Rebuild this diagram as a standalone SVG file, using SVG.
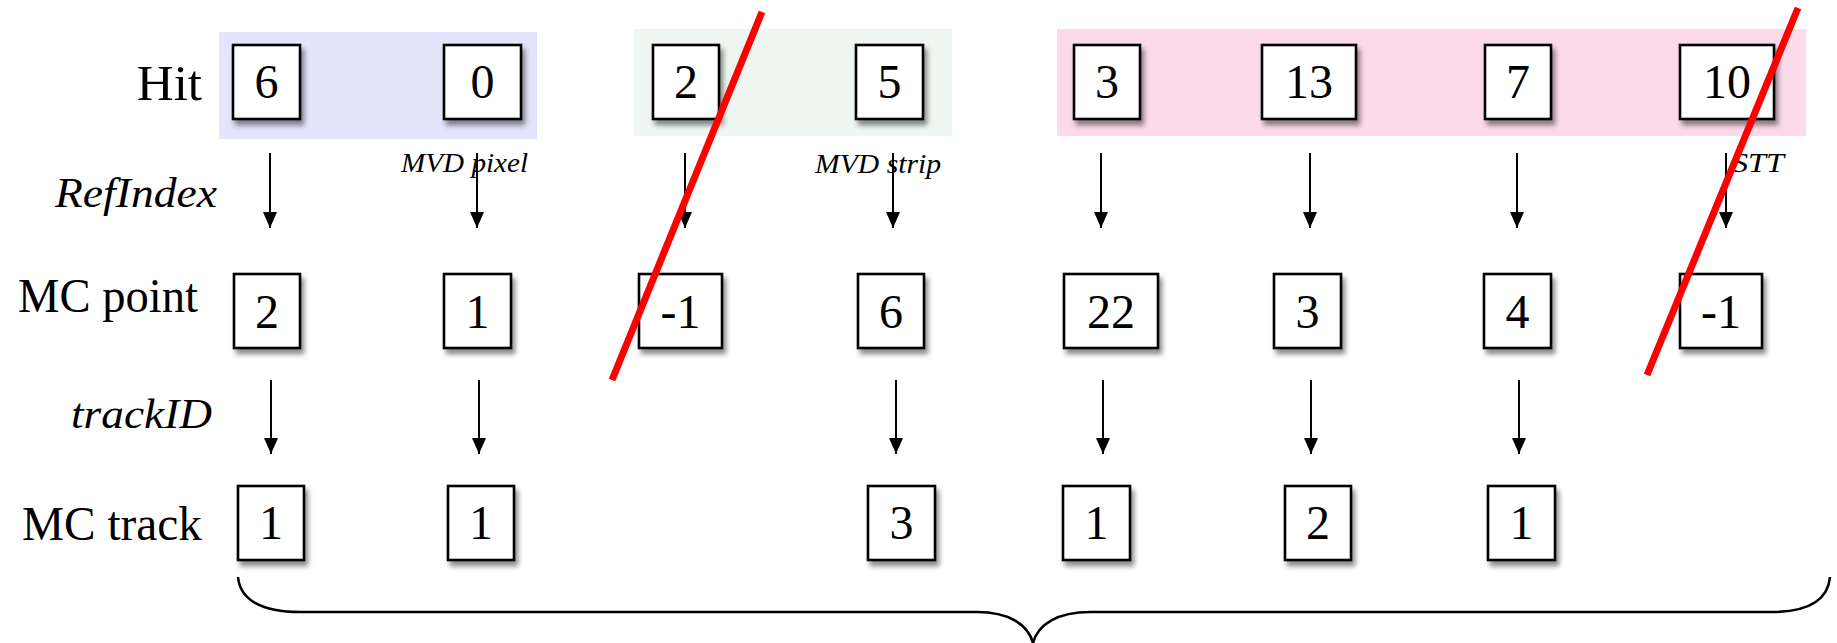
<svg xmlns="http://www.w3.org/2000/svg" width="1837" height="643" viewBox="0 0 1837 643">
  <style>
    .box { fill: #ffffff; stroke: #000000; stroke-width: 2.6; filter: url(#shadow); }
    .val { font-family: "Liberation Serif", "Times New Roman", serif; font-size: 48px; fill: #000; text-anchor: middle; }
    .row { font-family: "Liberation Serif", "Times New Roman", serif; font-size: 48px; fill: #000; text-anchor: end; }
    .rel { font-family: "Liberation Serif", "Times New Roman", serif; font-style: italic; font-size: 42px; fill: #000; }
    .det { font-family: "Liberation Serif", "Times New Roman", serif; font-style: italic; font-size: 28px; fill: #000; }
    .arrow { stroke: #000; stroke-width: 2; fill: none; marker-end: url(#head); }
    .brace { stroke: #000; stroke-width: 2.6; fill: none; }
    .veto { stroke: #ff0000; stroke-width: 7; stroke-linecap: butt; }
  </style>
  <defs>
    <filter id="shadow" x="-20%" y="-20%" width="150%" height="150%">
      <feDropShadow dx="3" dy="5" stdDeviation="2.5" flood-color="#000" flood-opacity="0.45"/>
    </filter>
    <marker id="head" markerUnits="userSpaceOnUse" markerWidth="16" markerHeight="14" refX="16" refY="7" orient="auto">
      <path d="M0,0 L16,7 L0,14 z" fill="#000"/>
    </marker>
  </defs>

  <rect width="1837" height="643" fill="#ffffff"/>

  <!-- detector groupings behind the hit row -->
  <g id="bands">
    <rect id="band-mvd-pixel" x="219" y="32" width="318" height="107" fill="#e4e4fa"/>
    <rect id="band-mvd-strip" x="634" y="29" width="318" height="107" fill="#edf6f1"/>
    <rect id="band-stt" x="1057" y="29" width="749" height="107" fill="#fcdaea"/>
  </g>

  <!-- row titles -->
  <g id="row-labels">
    <text class="row" x="202" y="100" style="font-size:51px">Hit</text>
    <text class="row" x="198" y="312" textLength="180" lengthAdjust="spacingAndGlyphs">MC point</text>
    <text class="row" x="202" y="540" textLength="180" lengthAdjust="spacingAndGlyphs">MC track</text>
    <text class="rel" x="55" y="207" textLength="162" lengthAdjust="spacingAndGlyphs">RefIndex</text>
    <text class="rel" x="71" y="428" textLength="141" lengthAdjust="spacingAndGlyphs">trackID</text>
  </g>

  <!-- detector names -->
  <g id="detector-labels">
    <text class="det" x="401" y="172" textLength="127" lengthAdjust="spacingAndGlyphs">MVD pixel</text>
    <text class="det" x="815" y="173" textLength="126" lengthAdjust="spacingAndGlyphs">MVD strip</text>
    <text class="det" x="1732" y="172" textLength="52" lengthAdjust="spacingAndGlyphs">STT</text>
  </g>

  <!-- hit row -->
  <g id="hit-6"><rect class="box" x="233" y="45" width="67" height="74"/><text class="val" x="266.5" y="98">6</text></g>
  <g id="hit-0"><rect class="box" x="444" y="45" width="77" height="74"/><text class="val" x="482.5" y="98">0</text></g>
  <g id="hit-2"><rect class="box" x="653" y="45" width="66" height="74"/><text class="val" x="686" y="98">2</text></g>
  <g id="hit-5"><rect class="box" x="856" y="45" width="67" height="74"/><text class="val" x="889.5" y="98">5</text></g>
  <g id="hit-3"><rect class="box" x="1074" y="45" width="66" height="74"/><text class="val" x="1107" y="98">3</text></g>
  <g id="hit-13"><rect class="box" x="1262" y="45" width="94" height="74"/><text class="val" x="1309" y="98">13</text></g>
  <g id="hit-7"><rect class="box" x="1485" y="45" width="66" height="74"/><text class="val" x="1518" y="98">7</text></g>
  <g id="hit-10"><rect class="box" x="1680" y="45" width="94" height="74"/><text class="val" x="1727" y="98">10</text></g>

  <!-- MC point row -->
  <g id="point-2"><rect class="box" x="234" y="274" width="66" height="74"/><text class="val" x="267" y="328">2</text></g>
  <g id="point-1"><rect class="box" x="444" y="274" width="67" height="74"/><text class="val" x="477.5" y="328">1</text></g>
  <g id="point-m1a"><rect class="box" x="639" y="274" width="83" height="74"/><text class="val" x="680.5" y="328">-1</text></g>
  <g id="point-6"><rect class="box" x="858" y="274" width="66" height="74"/><text class="val" x="891" y="328">6</text></g>
  <g id="point-22"><rect class="box" x="1064" y="274" width="94" height="74"/><text class="val" x="1111" y="328">22</text></g>
  <g id="point-3"><rect class="box" x="1274" y="274" width="67" height="74"/><text class="val" x="1307.5" y="328">3</text></g>
  <g id="point-4"><rect class="box" x="1484" y="274" width="67" height="74"/><text class="val" x="1517.5" y="328">4</text></g>
  <g id="point-m1b"><rect class="box" x="1680" y="274" width="82" height="74"/><text class="val" x="1721" y="328">-1</text></g>

  <!-- MC track row -->
  <g id="track-1a"><rect class="box" x="238" y="486" width="66" height="74"/><text class="val" x="271" y="539">1</text></g>
  <g id="track-1b"><rect class="box" x="448" y="486" width="66" height="74"/><text class="val" x="481" y="539">1</text></g>
  <g id="track-3"><rect class="box" x="868" y="486" width="67" height="74"/><text class="val" x="901.5" y="539">3</text></g>
  <g id="track-1c"><rect class="box" x="1063" y="486" width="67" height="74"/><text class="val" x="1096.5" y="539">1</text></g>
  <g id="track-2"><rect class="box" x="1285" y="486" width="66" height="74"/><text class="val" x="1318" y="539">2</text></g>
  <g id="track-1d"><rect class="box" x="1488" y="486" width="67" height="74"/><text class="val" x="1521.5" y="539">1</text></g>

  <!-- links between rows -->
  <g id="connectors">
    <line class="arrow" x1="270" y1="153" x2="270" y2="228"/>
    <line class="arrow" x1="477" y1="153" x2="477" y2="228"/>
    <line class="arrow" x1="685" y1="153" x2="685" y2="228"/>
    <line class="arrow" x1="893" y1="153" x2="893" y2="228"/>
    <line class="arrow" x1="1101" y1="153" x2="1101" y2="228"/>
    <line class="arrow" x1="1310" y1="153" x2="1310" y2="228"/>
    <line class="arrow" x1="1517" y1="153" x2="1517" y2="228"/>
    <line class="arrow" x1="1726" y1="153" x2="1726" y2="228"/>

    <line class="arrow" x1="271" y1="380" x2="271" y2="454"/>
    <line class="arrow" x1="479" y1="380" x2="479" y2="454"/>
    <line class="arrow" x1="896" y1="380" x2="896" y2="454"/>
    <line class="arrow" x1="1103" y1="380" x2="1103" y2="454"/>
    <line class="arrow" x1="1311" y1="380" x2="1311" y2="454"/>
    <line class="arrow" x1="1519" y1="380" x2="1519" y2="454"/>
  </g>

  <!-- brace under the track row -->
  <g id="brace">
    <path class="brace" d="M238,577 C240,600 262,612 300,612 L977,612 C1008,612 1028,624 1033,643 C1038,624 1058,612 1090,612 L1771,612 C1808,612 1828,600 1830,577"/>
  </g>

  <!-- strike-through of invalid links -->
  <g id="vetoes">
    <line class="veto" x1="762" y1="12" x2="612" y2="380"/>
    <line class="veto" x1="1798" y1="8" x2="1647" y2="375"/>
  </g>
</svg>
